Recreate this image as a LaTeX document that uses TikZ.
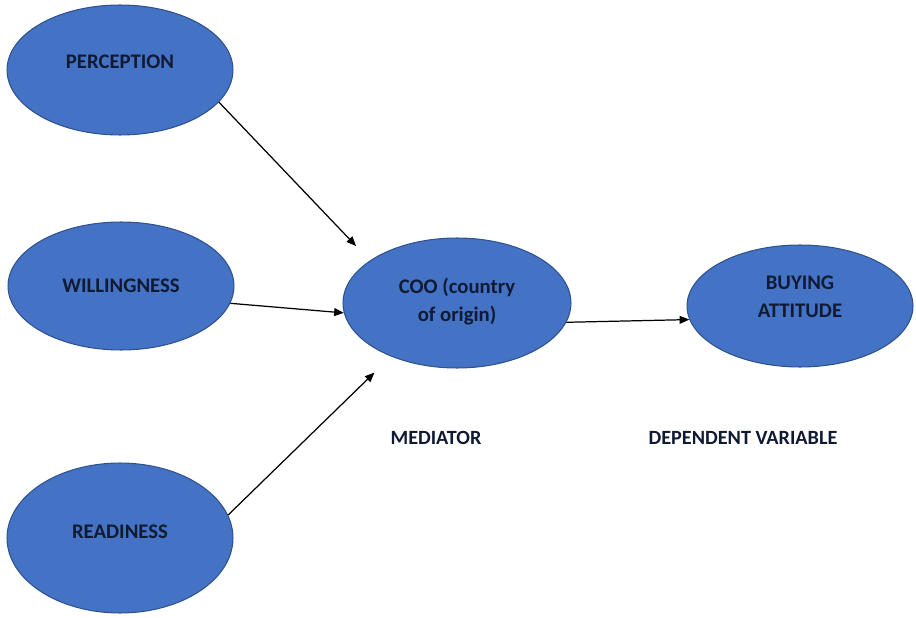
\documentclass[tikz,border=0pt]{standalone}
\usepackage{fontspec}
\setmainfont{Carlito}
\usetikzlibrary{shapes.geometric,arrows.meta}
\definecolor{ovalblue}{HTML}{4472C4}
\definecolor{ovalline}{HTML}{2F528F}
\definecolor{ovaltext}{HTML}{111A33}
\tikzset{
	oval/.style={ellipse,draw=ovalline,fill=ovalblue,line width=0.6pt,inner sep=0pt,
		text=ovaltext,font=\fontsize{11.8}{16}\selectfont\bfseries,align=center},
	link/.style={black,line width=0.7pt,-{Triangle[length=5.5pt,width=4.5pt]}},
	caption/.style={text=ovaltext,font=\fontsize{11.5}{13}\selectfont\bfseries}
}
\begin{document}
\begin{tikzpicture}[x=0.02cm,y=-0.02cm]
			\useasboundingbox (0,0) rectangle (916,618);
			\node[oval,minimum width=4.52cm,minimum height=2.6cm] (perc) at (120,70) {PERCEPTION\\[-6pt]};
			\node[oval,minimum width=4.52cm,minimum height=2.56cm] (will) at (121,286) {WILLINGNESS};
			\node[oval,minimum width=4.52cm,minimum height=3cm] (read) at (120,538) {READINESS\\[-9pt]};
			\node[oval,minimum width=4.56cm,minimum height=2.6cm] (coo) at (457,303) {COO (country\\of origin)\\[-12pt]};
			\node[oval,minimum width=4.52cm,minimum height=2.44cm] (buy) at (800,306) {BUYING\\ATTITUDE\\[-5pt]};
			\draw[link,shorten >=0.4cm] (perc.-18) -- (coo.154);
			\draw[link] (will.-9) -- (coo.185);
			\draw[link,shorten >=0.46cm] (read.12) -- (coo.219);
			\draw[link] (coo.-10) -- (buy.187);
			\node[caption] (med) at (436,438) {MEDIATOR};
			\node[caption] (dep) at (743,438) {DEPENDENT VARIABLE};
		\end{tikzpicture}
\end{document}
